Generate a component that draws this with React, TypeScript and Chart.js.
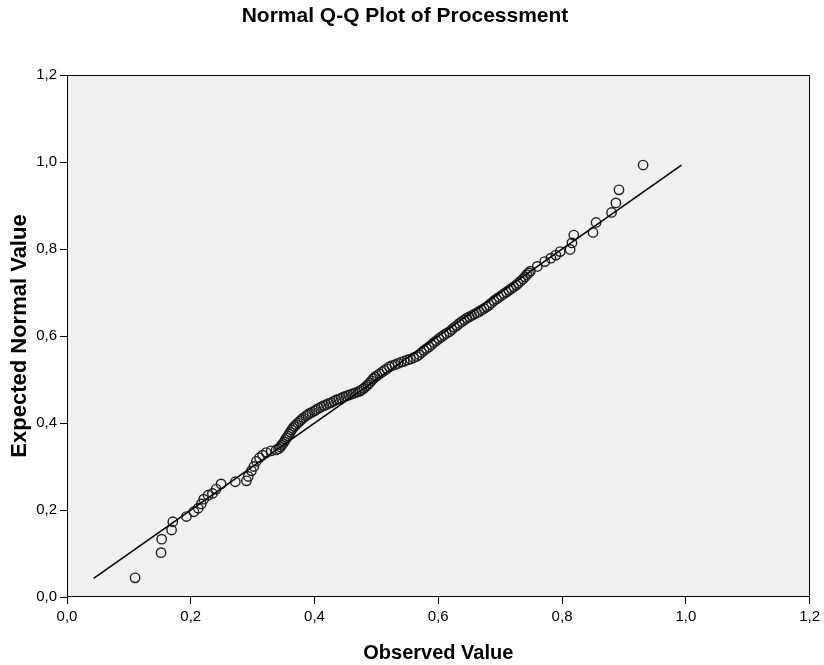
import React, { useEffect, useRef } from "react";
import { Chart, registerables } from "chart.js";

Chart.register(...registerables);

const TITLE = "Normal Q-Q Plot of Processment";
const X_TITLE = "Observed Value";
const Y_TITLE = "Expected Normal Value";
const AXIS_MIN = 0;
const AXIS_MAX = 1.2;
const AXIS_STEP = 0.2;

const observed: number[] = [
  0.110, 0.152, 0.153, 0.169, 0.171, 0.193, 0.205, 0.212, 0.217, 0.221,
  0.228, 0.235, 0.241, 0.249, 0.272, 0.290, 0.293, 0.298, 0.302, 0.306,
  0.311, 0.316, 0.322, 0.330, 0.338,
  0.342, 0.345, 0.347, 0.349, 0.351, 0.353, 0.355, 0.357, 0.359, 0.361,
  0.363, 0.365, 0.367, 0.370, 0.373, 0.376, 0.379, 0.382, 0.386, 0.389,
  0.392, 0.396, 0.400, 0.403, 0.407, 0.411, 0.415, 0.419, 0.423, 0.427,
  0.431, 0.435, 0.439, 0.443, 0.447, 0.451, 0.455, 0.459, 0.463, 0.467,
  0.471, 0.474, 0.477, 0.480, 0.483, 0.486, 0.489, 0.492, 0.495, 0.498,
  0.501, 0.505, 0.509, 0.513, 0.517, 0.521, 0.525, 0.530, 0.535, 0.540,
  0.545, 0.550, 0.555, 0.560, 0.565, 0.569, 0.573, 0.577, 0.581, 0.585,
  0.589, 0.593, 0.597, 0.601, 0.605, 0.609, 0.613, 0.618, 0.622, 0.626,
  0.630, 0.634, 0.638, 0.642, 0.646, 0.650, 0.654, 0.658, 0.662, 0.666,
  0.670, 0.674, 0.678, 0.682, 0.686, 0.690, 0.694, 0.698, 0.702, 0.706,
  0.710, 0.714, 0.718, 0.722, 0.726, 0.729, 0.733, 0.737, 0.740, 0.743,
  0.746, 0.749,
  0.760, 0.772, 0.782, 0.790, 0.797, 0.813, 0.816, 0.819, 0.850, 0.855,
  0.880, 0.887, 0.892, 0.931,
];

// Expected normal values matching each observed value
const expected: number[] = [
  0.044, 0.102, 0.133, 0.154, 0.173, 0.185, 0.196, 0.204, 0.214, 0.225,
  0.234, 0.238, 0.248, 0.260, 0.265, 0.267, 0.277, 0.290, 0.300, 0.312,
  0.320, 0.326, 0.332, 0.336, 0.338,
  0.341, 0.345, 0.349, 0.353, 0.357, 0.362, 0.366, 0.370, 0.375, 0.379,
  0.384, 0.388, 0.392, 0.396, 0.400, 0.404, 0.408, 0.412, 0.416, 0.419,
  0.422, 0.425, 0.428, 0.431, 0.434, 0.437, 0.440, 0.442, 0.445, 0.447,
  0.450, 0.453, 0.455, 0.457, 0.460, 0.462, 0.464, 0.466, 0.468, 0.470,
  0.472, 0.474, 0.477, 0.480, 0.484, 0.488, 0.492, 0.497, 0.502, 0.506,
  0.509, 0.513, 0.517, 0.521, 0.525, 0.529, 0.532, 0.534, 0.537, 0.540,
  0.542, 0.545, 0.547, 0.550, 0.553, 0.557, 0.562, 0.567, 0.571, 0.575,
  0.580, 0.585, 0.589, 0.594, 0.598, 0.602, 0.606, 0.610, 0.615, 0.620,
  0.624, 0.629, 0.633, 0.637, 0.641, 0.644, 0.647, 0.650, 0.653, 0.656,
  0.660, 0.663, 0.667, 0.671, 0.676, 0.681, 0.685, 0.689, 0.693, 0.697,
  0.701, 0.705, 0.709, 0.713, 0.717, 0.721, 0.726, 0.731, 0.736, 0.741,
  0.745, 0.749,
  0.760, 0.771, 0.779, 0.786, 0.794, 0.799, 0.814, 0.832, 0.838, 0.861,
  0.884, 0.906, 0.936, 0.993,
];

// Reference line endpoints (y = x)
const lineX: number[] = [0.043, 0.993];
const lineY: number[] = [0.043, 0.993];

const FONT = "'Liberation Sans', Arial, Helvetica, sans-serif";

const fmt = (v: number) => Number(v).toFixed(1).replace(".", ",");

const plotFrame = {
  id: "plotFrame",
  beforeDraw(chart: any) {
    const { ctx, chartArea } = chart;
    ctx.save();
    ctx.fillStyle = "#f0f0f0";
    ctx.fillRect(chartArea.left, chartArea.top, chartArea.right - chartArea.left, chartArea.bottom - chartArea.top);
    ctx.restore();
  },
  afterDatasetsDraw(chart: any) {
    const { ctx, chartArea } = chart;
    ctx.save();
    ctx.strokeStyle = "#000";
    ctx.lineWidth = 1;
    const l = Math.round(chartArea.left) + 0.5;
    const t = Math.round(chartArea.top) + 0.5;
    const r = Math.round(chartArea.right) - 0.5;
    const b = Math.round(chartArea.bottom) - 0.5;
    ctx.strokeRect(l, t, r - l, b - t);
    ctx.restore();
  },
};

export default function App() {
  const ref = useRef<HTMLCanvasElement | null>(null);

  useEffect(() => {
    if (!ref.current) return;
    const points = observed.map((x, i) => ({ x, y: expected[i] }));
    const line = lineX.map((x, i) => ({ x, y: lineY[i] }));
    const tickFont = { family: FONT, size: 15 };
    const chart = new Chart(ref.current, {
      type: "scatter",
      data: {
        datasets: [
          {
            type: "line",
            data: line,
            borderColor: "#000",
            borderWidth: 1.5,
            pointRadius: 0,
            fill: false,
            showLine: true,
          } as any,
          {
            data: points,
            pointRadius: 4.7,
            pointBorderColor: "#1e1e1e",
            pointBackgroundColor: "rgba(0,0,0,0)",
            pointBorderWidth: 1.4,
            showLine: false,
          } as any,
        ],
      },
      options: {
        responsive: false,
        animation: false,
        devicePixelRatio: 1,
        layout: { padding: { left: 0, right: 14, top: 0, bottom: 0 } },
        plugins: {
          legend: { display: false },
          tooltip: { enabled: false },
          title: {
            display: true,
            text: TITLE,
            color: "#000",
            font: { family: FONT, size: 21, weight: "bold" },
            padding: { top: 4, bottom: 45.8 },
          },
        },
        scales: {
          x: {
            type: "linear",
            min: AXIS_MIN,
            max: AXIS_MAX,
            afterFit: (s: any) => {
              s.height = 68;
            },
            ticks: {
              stepSize: AXIS_STEP,
              callback: (v: any) => fmt(v),
              color: "#000",
              font: tickFont,
              padding: 4,
              maxRotation: 0,
            },
            grid: { display: true, drawOnChartArea: false, drawTicks: true, tickLength: 7, color: "#000" },
            border: { display: false },
            title: {
              display: true,
              text: X_TITLE,
              color: "#000",
              font: { family: FONT, size: 20, weight: "bold" },
              padding: { top: 0, bottom: 0 },
            },
          },
          y: {
            type: "linear",
            min: AXIS_MIN,
            max: AXIS_MAX,
            afterFit: (s: any) => {
              s.width = 67;
            },
            ticks: {
              stepSize: AXIS_STEP,
              callback: (v: any) => fmt(v),
              color: "#000",
              font: tickFont,
              padding: 3,
            },
            grid: { display: true, drawOnChartArea: false, drawTicks: true, tickLength: 7, color: "#000" },
            border: { display: false },
            title: {
              display: true,
              text: Y_TITLE,
              color: "#000",
              font: { family: FONT, size: 22, weight: "bold" },
              padding: { top: 7, bottom: 0 },
            },
          },
        },
      } as any,
      plugins: [plotFrame],
    });
    return () => chart.destroy();
  }, []);

  return (
    <div style={{ position: "absolute", left: 0, top: 0, width: 824, height: 665, background: "#fff" }}>
      <canvas ref={ref} width={824} height={665} style={{ width: 824, height: 665, display: "block" }} />
    </div>
  );
}
